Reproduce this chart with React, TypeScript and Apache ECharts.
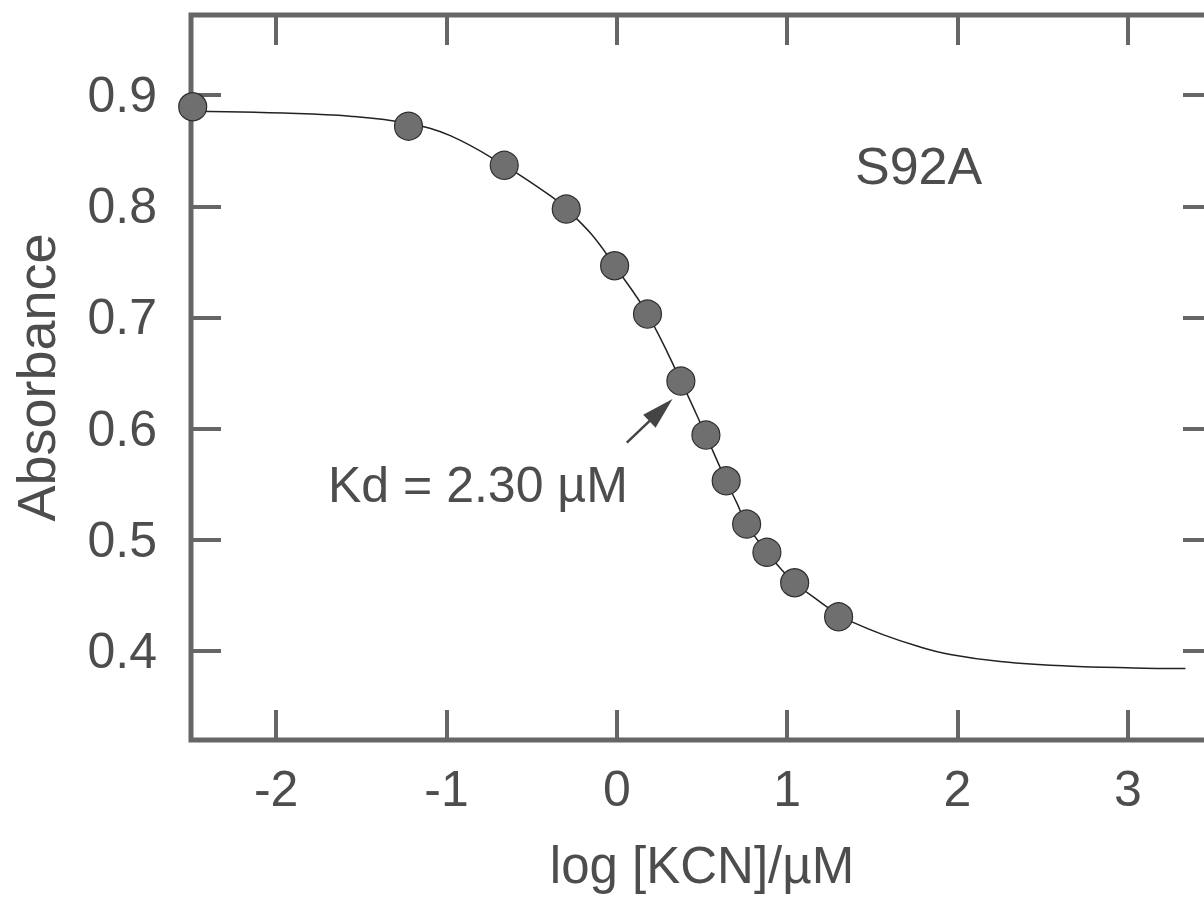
import React, { useEffect, useRef } from "react";
import * as echarts from "echarts";

// Measured data points (log[KCN]/µM, absorbance)
const pointsX = [-2.49, -1.223, -0.661, -0.297, -0.013, 0.18, 0.376, 0.523, 0.642, 0.762, 0.881, 1.044, 1.302];
const pointsY = [0.8895, 0.872, 0.8368, 0.7975, 0.7465, 0.703, 0.6428, 0.5942, 0.5531, 0.5142, 0.4888, 0.4614, 0.4308];

// Fitted curve
const curveX = [-2.49, -1.957, -1.565, -1.223, -0.978, -0.661, -0.391, -0.297, -0.15, -0.013, 0.18, 0.376, 0.523, 0.642, 0.705, 0.762, 0.881, 0.96, 1.044, 1.175, 1.302, 1.38, 1.566, 1.762, 1.958, 2.251, 2.643, 3.034, 3.338];
const curveY = [0.8855, 0.8838, 0.881, 0.8745, 0.8635, 0.8368, 0.8095, 0.7975, 0.775, 0.7465, 0.703, 0.643, 0.594, 0.553, 0.533, 0.514, 0.489, 0.4744, 0.4614, 0.4462, 0.4325, 0.4262, 0.4145, 0.4045, 0.3968, 0.3905, 0.3865, 0.3848, 0.3842];

// Arrow (Kd annotation) start and head centre, in data units
const arrowFrom = [0.0587, 0.5874];
const arrowTo = [0.259, 0.6167];

const xRange = [-2.5, 3.5];
const yRange = [0.32, 0.972];

const FONT = "'Liberation Sans', Arial, Helvetica, sans-serif";
const TEXT = "#4d4d4d";
const AXIS = "#666666";

export default function App() {
  const ref = useRef<HTMLDivElement>(null);
  useEffect(() => {
    if (!ref.current) return;
    const chart = echarts.init(ref.current, null, { renderer: "svg" });
    const tick = { show: true, inside: true, length: 30, lineStyle: { color: AXIS, width: 4 } };
    const baseX = {
      type: "value",
      min: xRange[0],
      max: xRange[1],
      splitNumber: 6,
      axisLine: { show: false, onZero: false },
      splitLine: { show: false },
      axisTick: tick,
    };
    const baseY = {
      type: "value",
      min: yRange[0],
      max: yRange[1],
      splitNumber: 6,
      axisLine: { show: false, onZero: false },
      splitLine: { show: false },
      axisTick: tick,
    };
    chart.setOption({
      animation: false,
      backgroundColor: "#ffffff",
      textStyle: { fontFamily: FONT },
      grid: {
        left: 191,
        right: -9,
        top: 15,
        bottom: 158,
        show: true,
        borderColor: AXIS,
        borderWidth: 5,
        containLabel: false,
        outerBoundsMode: "none",
      },
      xAxis: [
        {
          ...baseX,
          position: "bottom",
          name: "log [KCN]/\u00b5M",
          nameLocation: "middle",
          nameGap: 100,
          nameTextStyle: { fontSize: 51, color: TEXT, fontFamily: FONT },
          axisLabel: {
            fontSize: 50,
            color: TEXT,
            margin: 24,
            fontFamily: FONT,
            showMinLabel: false,
            showMaxLabel: false,
            formatter: (v: number) => String(Math.round(v)),
          },
        },
        { ...baseX, position: "top", axisLabel: { show: false } },
      ],
      yAxis: [
        {
          ...baseY,
          position: "left",
          name: "Absorbance",
          nameLocation: "middle",
          nameGap: 128,
          nameTextStyle: { fontSize: 54, color: TEXT, fontFamily: FONT },
          axisLabel: {
            fontSize: 50,
            color: TEXT,
            margin: 34,
            fontFamily: FONT,
            showMinLabel: false,
            showMaxLabel: false,
            formatter: (v: number) => v.toFixed(1),
          },
        },
        { ...baseY, position: "right", axisLabel: { show: false } },
      ],
      series: [
        {
          type: "line",
          data: curveX.map((x, i) => [x, curveY[i]]),
          smooth: 0.4,
          showSymbol: false,
          lineStyle: { color: "#222222", width: 1.5 },
          z: 2,
          silent: true,
        },
        {
          type: "scatter",
          data: pointsX.map((x, i) => [x, pointsY[i]]),
          symbol: "circle",
          symbolSize: 28,
          itemStyle: { color: "#6f6f6f", borderColor: "#2e2e2e", borderWidth: 1.2, opacity: 1 },
          z: 3,
          silent: true,
          markLine: {
            silent: true,
            symbol: ["none", "triangle"],
            symbolSize: [18, 32],
            label: { show: false },
            lineStyle: { color: "#444444", width: 2.5, type: "solid" },
            data: [[{ coord: arrowFrom }, { coord: arrowTo }]],
          },
        },
      ],
      graphic: [
        {
          type: "text",
          left: 855,
          top: 140,
          style: {
            text: "S92A",
            fontSize: 52,
            fontFamily: FONT,
            fill: TEXT,
          },
        },
        {
          type: "text",
          x: 328,
          y: 485,
          style: {
            text: "Kd = 2.30 \u00b5M",
            fontSize: 50,
            fontFamily: FONT,
            fill: TEXT,
            verticalAlign: "middle",
          },
        },
      ],
    });
    return () => chart.dispose();
  }, []);
  return (
    <div
      ref={ref}
      style={{ position: "fixed", left: 0, top: 0, width: 1204, height: 898, background: "#fff" }}
    />
  );
}
